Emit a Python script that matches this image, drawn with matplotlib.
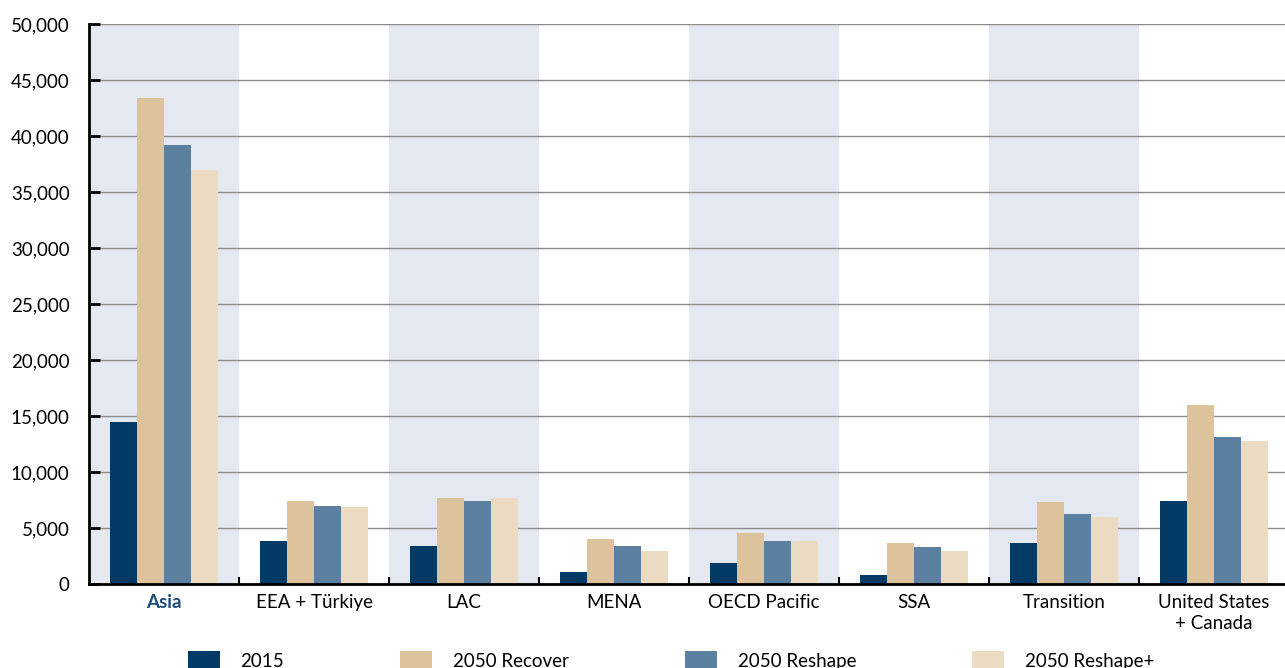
import numpy as np
import matplotlib.pyplot as plt

plt.rcParams['font.family'] = ['Lato', 'DejaVu Sans']

regions = ['Asia', 'EEA + Türkiye', 'LAC', 'MENA', 'OECD Pacific', 'SSA',
           'Transition', 'United States\n+ Canada']
v2015 = [14500, 3850, 3400, 1100, 1850, 830, 3700, 7400]
recover = [43400, 7450, 7700, 4000, 4550, 3700, 7300, 16000]
reshape = [39200, 7000, 7400, 3400, 3850, 3270, 6250, 13150]
reshape_plus = [37000, 6850, 7700, 2950, 3850, 2950, 6000, 12750]

series = ['2015', '2050 Recover', '2050 Reshape', '2050 Reshape+']
colors = ['#033a66', '#dcc39c', '#5b80a0', '#eadbc2']

fig = plt.figure(figsize=(12.85, 6.68), dpi=100)
ax = fig.add_axes([89 / 1285, 84 / 668, 1200 / 1285, 560 / 668])

x = np.arange(len(regions))
w = 0.18
data = [v2015, recover, reshape, reshape_plus]

# alternating shaded bands
for i in range(0, len(regions), 2):
    ax.axvspan(i - 0.5, i + 0.5, color='#e4e8f0', zorder=0, lw=0)

ax.yaxis.grid(True, color='#8c8c8c', lw=1.0, zorder=1)
ax.set_axisbelow(True)

for k, (vals, c, lab) in enumerate(zip(data, colors, series)):
    ax.bar(x + (k - 1.5) * w, vals, w, color=c, label=lab, zorder=2, lw=0)

ax.set_xlim(-0.5, len(regions) - 0.5)
ax.set_ylim(0, 50000)
ax.set_yticks(np.arange(0, 50001, 5000))
ax.set_yticklabels([f'{v:,}' for v in range(0, 50001, 5000)], fontsize=13.5)

ax.set_xticks(x)
ax.set_xticklabels(regions, fontsize=13.5, linespacing=1.3)
ax.tick_params(axis='x', length=0, pad=7)
ax.set_xticks(np.arange(0.5, len(regions) - 0.5, 1), minor=True)
ax.tick_params(axis='x', which='minor', direction='in', length=5, width=1.5)
ax.tick_params(axis='y', direction='in', length=8, width=2, pad=14)
lbl = ax.get_xticklabels()[0]
lbl.set_fontweight('bold')
lbl.set_color('#1f4e79')

for s in ['top', 'right']:
    ax.spines[s].set_visible(False)
ax.spines['left'].set_linewidth(2)
ax.spines['bottom'].set_linewidth(2)

fig.legend(loc='upper left', bbox_to_anchor=(171 / 1285, 1 - 634 / 668), ncol=4,
           frameon=False, fontsize=13.5, handlelength=1.7, handleheight=1.3,
           handletextpad=1.1, columnspacing=6.2)

fig.savefig('out.png', dpi=100)
